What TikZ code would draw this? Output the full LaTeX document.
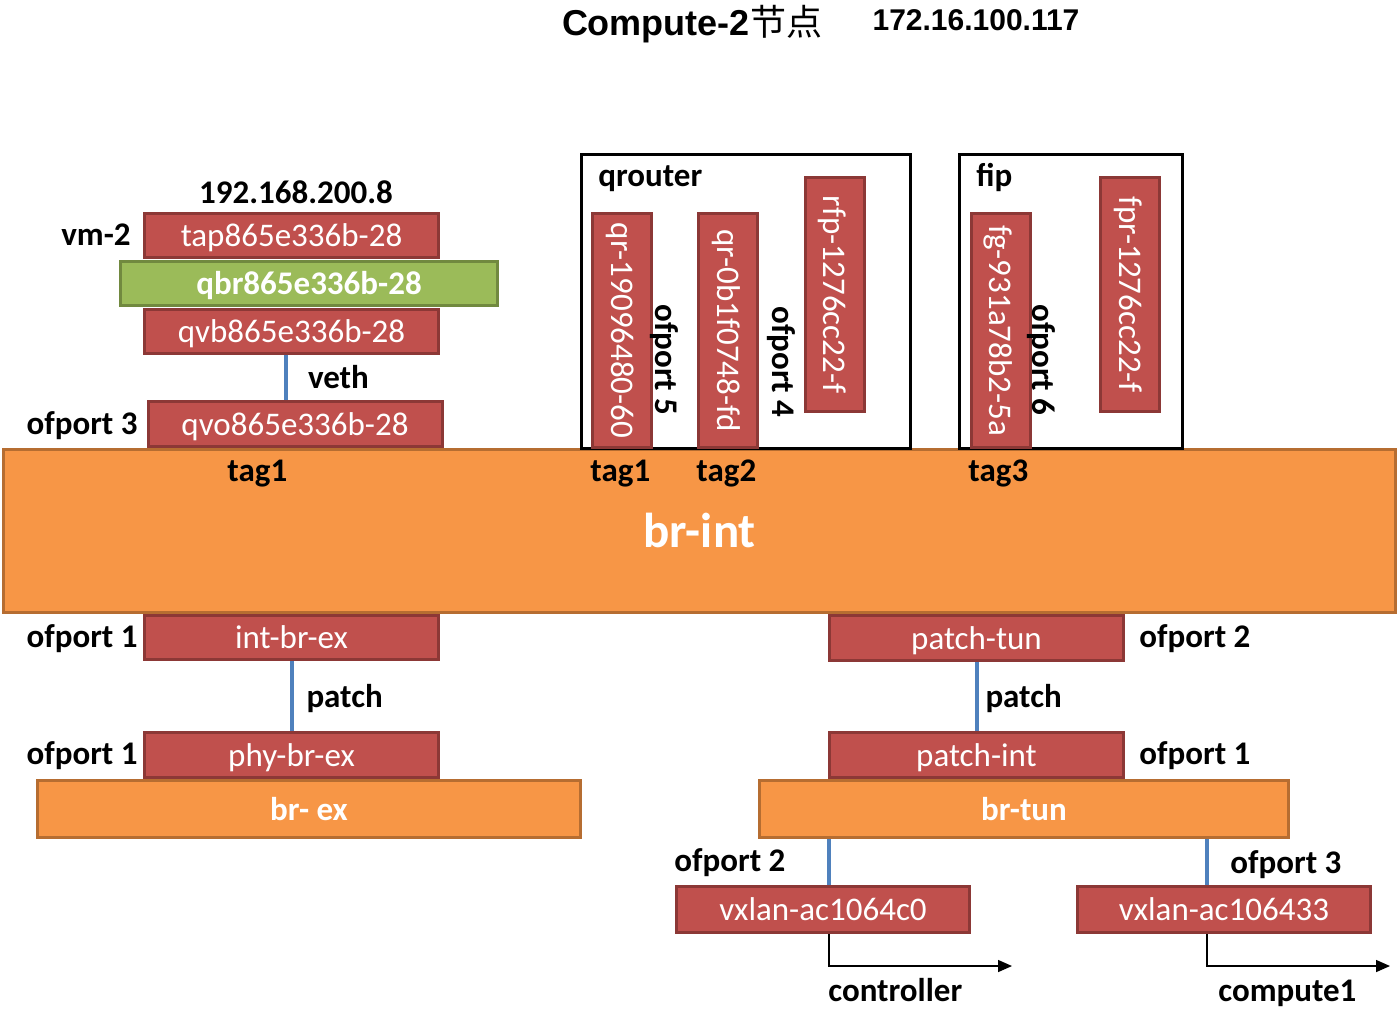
\documentclass[tikz,border=0pt]{standalone}
\usepackage{fontspec}
\setmainfont{Carlito}
\newfontfamily\titlefont{Liberation Sans}
\newfontfamily\cjkfont{Noto Sans CJK SC}
\usetikzlibrary{arrows.meta}
\definecolor{cport}{HTML}{C0504D}
\definecolor{cportline}{HTML}{8C3836}
\definecolor{cbr}{HTML}{F79646}
\definecolor{cbrline}{HTML}{B66D31}
\definecolor{cqbr}{HTML}{9BBB59}
\definecolor{cqbrline}{HTML}{71893F}
\definecolor{clink}{HTML}{4F81BD}

\begin{document}
\begin{tikzpicture}[x=0.5pt,y=-0.5pt,
  port/.style={draw=cportline,fill=cport,line width=1.5pt,text=white,inner sep=0pt,text height=13pt,text depth=2pt,font=\fontsize{16.5}{18}\selectfont},
  hport/.style={port,minimum width=147pt,minimum height=22pt},
  vport/.style={port,rotate=-90,minimum width=117pt,minimum height=29.5pt},
  bridge/.style={draw=cbrline,fill=cbr,line width=1.5pt,text=white,inner sep=0pt,text height=13pt,text depth=2pt,font=\bfseries\fontsize{16.5}{18}\selectfont},
  ns/.style={draw=black,line width=1.5pt},
  lbl/.style={inner sep=0pt,text height=13pt,text depth=2pt,font=\bfseries\fontsize{16.5}{18}\selectfont},
  link/.style={draw=clink,line width=2pt},
  tunnel/.style={-{Triangle[length=7pt,width=6pt]},line width=0.75pt}]
  \useasboundingbox (0,0) rectangle (1398,1009);
  \node[font=\titlefont\bfseries\fontsize{18}{20}\selectfont] (title) at (692,24) {Compute-2{\cjkfont\mdseries 节点}};
  \node[font=\titlefont\bfseries\fontsize{15}{17}\selectfont] (hostip) at (976,20) {172.16.100.117};

  \node[bridge,minimum width=696pt,minimum height=81.5pt,text height=19.5pt,text depth=3pt,font=\bfseries\fontsize{24.5}{26}\selectfont] (brint) at (699.5,531) {br-int};
  \draw[ns] (581.5,154.5) rectangle (910.5,448);
  \draw[ns] (959.5,154.5) rectangle (1182.5,448);
  \node[lbl,anchor=west] (qrouter) at (598,175) {qrouter};
  \node[lbl,anchor=west] (fip) at (976,175) {fip};

  \node[lbl] (vmip) at (296,192) {192.168.200.8};
  \node[hport] (tap) at (291.5,235.5) {tap865e336b-28};
  \node[port,draw=cqbrline,fill=cqbr,minimum width=188.5pt,minimum height=22pt,font=\bfseries\fontsize{16.5}{18}\selectfont] (qbr) at (309,283.5) {qbr865e336b-28};
  \node[hport] (qvb) at (291.5,331) {qvb865e336b-28};
  \node[hport,minimum height=22.5pt] (qvo) at (295,424) {qvo865e336b-28};
  \node[lbl,anchor=east] (vm) at (131,234) {vm-2};
  \node[lbl,anchor=east] (ofqvo) at (138,423) {ofport 3};
  \draw[link] ([xshift=-2.75pt]qvb.south) -- ([xshift=-2.75pt]qvb.south |- qvo.north) node[lbl,midway,anchor=west,xshift=10pt] (veth) {veth};

  \node[vport] (qra) at (622,330.5) {qr-19096480-60};
  \node[vport] (qrb) at (728,330.5) {qr-0b1f0748-fd};
  \node[vport] (rfp) at (834.5,294.5) {rfp-1276cc22-f};
  \node[vport] (fg) at (1000.5,330.5) {fg-931a78b2-5a};
  \node[vport] (fpr) at (1130,294.5) {fpr-1276cc22-f};
  \node[lbl,rotate=-90] (ofqra) at (666,360) {ofport 5};
  \node[lbl,rotate=-90] (ofqrb) at (783,362) {ofport 4};
  \node[lbl,rotate=-90] (offg) at (1043,360) {ofport 6};

  \node[lbl,anchor=west] (tagvm) at (227,470) {tag1};
  \node[lbl,anchor=west] (tagqra) at (590,470) {tag1};
  \node[lbl,anchor=west] (tagqrb) at (696,470) {tag2};
  \node[lbl,anchor=west] (tagfg) at (968,470) {tag3};

  \node[bridge,minimum width=271.5pt,minimum height=28.5pt] (brex) at (309,809) {br- ex};
  \node[hport] (intbrex) at (291.5,637.5) {int-br-ex};
  \node[hport,minimum height=22.5pt] (phybrex) at (291.5,755) {phy-br-ex};
  \node[lbl,anchor=east] (ofintbrex) at (138,636) {ofport 1};
  \node[lbl,anchor=east] (ofphybrex) at (138,753) {ofport 1};
  \draw[link] (intbrex) -- (phybrex) node[lbl,midway,anchor=west,xshift=6.5pt] (patchex) {patch};

  \node[bridge,minimum width=264.5pt,minimum height=28.5pt] (brtun) at (1024,809) {br-tun};
  \node[hport,minimum height=22.5pt] (patchtun) at (976.5,638) {patch-tun};
  \node[hport,minimum height=22.5pt] (patchint) at (976.5,755) {patch-int};
  \node[lbl,anchor=west] (ofpatchtun) at (1139,636) {ofport 2};
  \node[lbl,anchor=west] (ofpatchint) at (1139,753) {ofport 1};
  \draw[link] (patchtun) -- (patchint) node[lbl,midway,anchor=west,xshift=3.5pt] (patchtn) {patch};

  \node[hport,minimum width=146.5pt,minimum height=23pt] (vxlana) at (823,909.5) {vxlan-ac1064c0};
  \node[hport,minimum width=146.5pt,minimum height=23pt] (vxlanb) at (1224,909.5) {vxlan-ac106433};
  \node[lbl,anchor=west] (ofvxlana) at (674,860) {ofport 2};
  \node[lbl,anchor=west] (ofvxlanb) at (1230,862) {ofport 3};
  \draw[link] ([xshift=3pt]vxlana.north) -- ([xshift=3pt]vxlana.north |- brtun.south);
  \draw[link] ([xshift=-8.5pt]vxlanb.north) -- ([xshift=-8.5pt]vxlanb.north |- brtun.south);

  \coordinate (toctrl) at (1012,966);
  \coordinate (tocomp) at (1390,966);
  \draw[tunnel] ([xshift=3pt]vxlana.south) |- (toctrl);
  \draw[tunnel] ([xshift=-8.5pt]vxlanb.south) |- (tocomp);
  \node[lbl,anchor=west] (ctrl) at (828,990) {controller};
  \node[lbl,anchor=west] (comp) at (1218,990) {compute1};
\end{tikzpicture}
\end{document}
